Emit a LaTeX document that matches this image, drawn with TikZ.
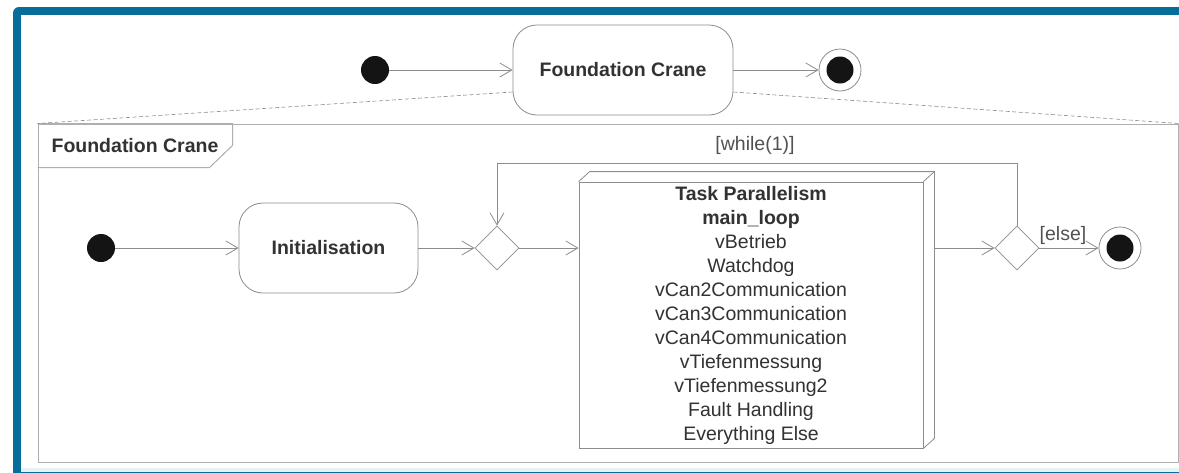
\documentclass[tikz,border=0pt]{standalone}
\usepackage{fontspec}
\setmainfont{Liberation Sans}
\usetikzlibrary{arrows.meta, shapes.geometric}
\definecolor{borderblue}{RGB}{6,110,152}
\definecolor{linegray}{RGB}{140,140,140}
\definecolor{framegray}{RGB}{175,175,175}
\definecolor{dotblack}{RGB}{20,20,20}
\definecolor{textgray}{RGB}{50,50,50}
\definecolor{stripcyan}{RGB}{230,242,244}
\newcommand{\diagfont}{\fontsize{19.5}{24}\selectfont}

\begin{document}
\begin{tikzpicture}[x=1pt, y=-1pt,
  every node/.style={font=\diagfont, text=textgray},
  flow/.style={draw=linegray, line width=0.8pt, -{Straight Barb[length=12pt, width=14pt, line width=0.8pt]}},
  actstate/.style={draw=linegray, line width=0.8pt, rounded corners=24pt, font=\diagfont\bfseries, minimum height=90pt, inner sep=0pt},
  initdot/.style={circle, fill=dotblack, minimum size=28pt, inner sep=0pt},
  finaldot/.style={circle, draw=linegray, line width=0.8pt, minimum size=42pt, inner sep=0pt,
    path picture={\fill[dotblack] (path picture bounding box.center) circle (13.5pt);}},
  decision/.style={diamond, draw=linegray, line width=0.8pt, minimum width=44pt, minimum height=44pt, inner sep=0pt},
  guard/.style={text=textgray!85}
]
\useasboundingbox (0,0) rectangle (1179,472);
% blue window border
\begin{scope}
  \clip (0,0) rectangle (1179,472);
  \fill[borderblue, rounded corners=6pt] (13,7) rectangle (1200,490);
  \fill[white] (21,15) rectangle (1179,472);
  \fill[stripcyan] (21,468) rectangle (1179,472);
\end{scope}
% top level
\node[initdot] (topstart) at (375,70) {};
\node[actstate, minimum width=220pt] (crane) at (623,70) {Foundation Crane};
\node[finaldot] (topend) at (840,70) {};
\draw[flow] (topstart) -- (crane);
\draw[flow] (crane) -- (topend);
% expanded activity frame
\node[draw=framegray, line width=1pt, minimum width=1140pt, minimum height=338pt, inner sep=0pt] (frame) at (608,293) {};
\draw[framegray, line width=1pt] (frame.north west) -- ++(195,0) -- ++(0,22) -- ++(-23,22) -- ++(-172,0);
\node[font=\diagfont\bfseries] (framelabel) at (135,146) {Foundation Crane};
\draw[linegray, line width=0.6pt, dash pattern=on 4pt off 2.5pt] ([yshift=-22pt]crane.west) -- (frame.north west);
\draw[linegray, line width=0.6pt, dash pattern=on 4pt off 2.5pt] ([yshift=-22pt]crane.east) -- (frame.north east);
% inner flow
\node[initdot] (start) at (101,248) {};
\node[actstate, minimum width=179pt] (init) at (328.5,248) {Initialisation};
\node[decision] (merge) at (497,248) {};
\node[draw=linegray, line width=0.8pt, minimum width=344pt, minimum height=266pt, align=center, inner sep=0pt] (task) at (751,315)
  {\textbf{Task Parallelism}\\\textbf{main\_loop}\\vBetrieb\\Watchdog\\vCan2Communication\\vCan3Communication\\vCan4Communication\\vTiefenmessung\\vTiefenmessung2\\Fault Handling\\Everything Else};
% 3d edges of the task box
\draw[linegray, line width=0.8pt] (task.north west) -- ++(11,-10) -- ([shift={(11pt,10pt)}]task.north east) -- ([shift={(11pt,10pt)}]task.south east) -- (task.south east);
\draw[linegray, line width=0.8pt] (task.north east) -- ++(11,-10);
\coordinate (taskback) at ([xshift=11pt]task.east);
\node[decision] (loopcheck) at (1017,248) {};
\node[finaldot] (end) at (1120,248) {};
\draw[flow] (start) -- (init);
\draw[flow] (init) -- (merge);
\draw[flow] (merge) -- (merge -| task.west);
\draw[flow] (taskback |- loopcheck) -- (loopcheck);
\draw[flow] (loopcheck) -- node[above, guard, xshift=-6pt] (elseguard) {[else]} (end);
% loop back
\coordinate (looptop) at (0,163);
\draw[flow] (loopcheck.north) -- (loopcheck.north |- looptop) -| (merge.north);
\node[guard] (whileguard) at (755,145) {[while(1)]};
\end{tikzpicture}
\end{document}
